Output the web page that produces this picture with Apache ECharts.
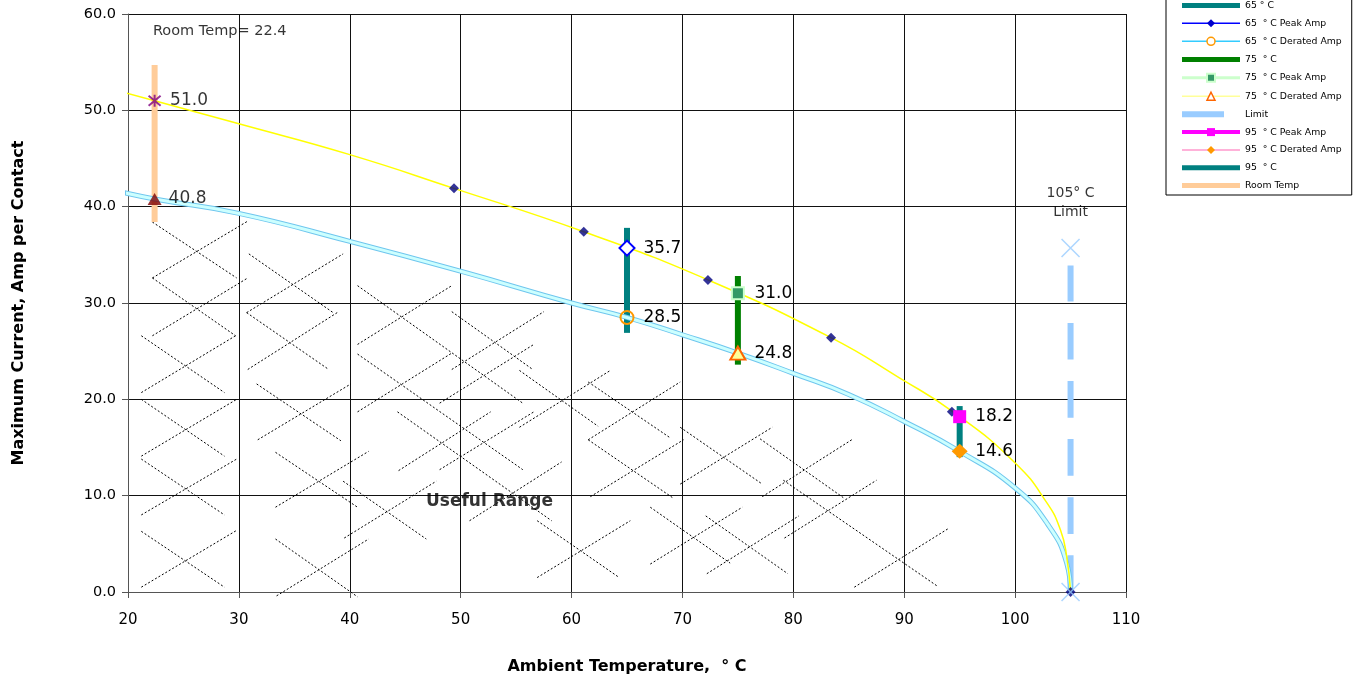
<!DOCTYPE html>
<html><head><meta charset="utf-8">
<script src="https://cdn.jsdelivr.net/npm/echarts@6/dist/echarts.min.js"></script>
<style>html,body{margin:0;padding:0;background:#fff}#c{width:1355px;height:679px}</style>
</head><body><div id="c"></div>
<script>
// ---------- data ----------
const roomTemp = 22.4;
const xTickValues = [20, 30, 40, 50, 60, 70, 80, 90, 100, 110];
const yTickValues = [0, 10, 20, 30, 40, 50, 60];

// peak-amp curve (yellow) and derated curve (light blue)
const peakCurve = [[19.2,52.0],[22.4,51.0],[30,48.6],[40,45.4],[49.4,41.9],[61.1,37.4],[72.3,32.4],[83.4,26.4],[89.6,22.2],[94.4,18.7],[100,13.4],[102.9,9.2],[104.1,6.4],[104.65,3.7],[105,0]];
const deratedCurve = [[19.1,41.6],[22.4,40.8],[30,39.3],[40,36.4],[50,33.3],[60,30.0],[65,28.5],[70,26.7],[75,24.8],[80,22.7],[85,20.5],[90,17.7],[95,14.6],[100,10.8],[102.9,7.1],[104.65,3.0],[105,0]];
const peakDiamonds = [[49.4,41.9],[61.1,37.4],[72.3,32.4],[83.4,26.4],[94.3,18.7],[105,0]];

// vertical range bars
const roomTempBar = [[22.4,38.4],[22.4,54.7]];
const bar65 = [[65,26.9],[65,37.8]];
const bar75 = [[75,23.6],[75,32.8]];
const bar95 = [[95,14.0],[95,19.3]];
const limitLine = [[105,0],[105,33.9]];

// labelled points
const peakRoom = [22.4, 51.0];
const deratedRoom = [22.4, 40.8];
const peak65 = [65, 35.7];
const derated65 = [65, 28.5];
const peak75 = [75, 31.0];
const derated75 = [75, 24.8];
const peak95 = [95, 18.2];
const derated95 = [95, 14.6];
const limitMarks = [[105, 35.7], [105, 0]];

// annotation anchors
const roomTempTextPos = [22.25, 58.2];
const usefulRangePos = [52.6, 9.35];
const limitTextPos = [105, 40.4];

// "Useful Range" hatch segments [x1, y1, x2, y2]
const hatchSegments = [
 [22.2,38.4,29.8,32.6],[22.2,32.6,30.8,38.5],[22.2,32.6,29.7,26.6],[22.2,26.6,30.8,32.6],
 [21.2,26.6,28.7,20.7],[21.2,20.7,29.7,26.6],[21.2,20.0,28.7,14.1],[21.2,14.1,29.8,20.0],
 [21.2,13.8,28.7,8.0],[21.2,8.0,29.8,13.8],[21.2,6.3,28.7,0.5],[21.2,0.5,29.8,6.4],
 [30.9,35.1,38.5,29.0],[30.7,29.0,39.4,35.1],[30.7,29.0,38.1,23.1],[30.8,23.1,39.0,29.1],
 [31.6,21.6,39.2,15.7],[31.7,15.8,40.1,21.6],[33.3,14.5,40.7,8.8],[33.3,8.8,41.7,14.6],
 [33.3,5.5,40.7,-0.5],[33.4,-0.4,41.7,5.5],[39.4,11.5,46.9,5.5],[39.5,5.6,47.8,11.5],
 [40.7,31.8,55.6,19.6],[40.7,25.7,49.2,31.8],[40.7,24.7,55.6,12.7],[40.7,18.7,49.2,24.8],
 [44.3,18.7,58.2,7.4],[49.2,29.1,56.5,23.1],[49.2,23.1,57.5,29.1],[48.1,19.6,56.6,25.7],
 [44.4,12.6,52.7,18.7],[48.1,12.7,56.6,18.7],[50.8,7.4,59.1,13.5],[55.3,23.0,62.4,17.2],
 [55.3,17.1,63.5,23.0],[61.5,21.8,68.9,16.0],[61.5,15.8,69.1,9.8],[61.7,9.9,70.1,15.8],
 [61.5,15.8,69.8,21.8],[56.9,7.4,64.3,1.5],[56.9,1.5,65.3,7.4],[69.8,17.1,77.2,11.2],
 [69.8,11.2,78.1,17.1],[77.0,15.9,84.5,9.8],[77.2,9.9,85.4,15.9],[79.1,11.6,93.0,0.6],
 [79.2,5.6,87.5,11.6],[67.1,8.8,74.3,3.0],[67.1,2.9,75.4,8.8],[72.1,7.9,79.5,1.9],
 [72.2,1.9,80.5,7.9],[85.5,0.5,94.0,6.6]
];

// ---------- chart ----------
const FONT = 'DejaVu Sans';
const chart = echarts.init(document.getElementById('c'), null, {renderer:'canvas'});

function valLabel(size, extra) {
  return {show:true, position:'right', distance:15.5 - size/2 + (extra || 0), color:'#000',
    fontFamily:FONT, fontSize:17, formatter: p => p.value[1].toFixed(1)};
}
function bar(name, data, color, width, dash) {
  return {type:'line', name, data, symbol:'none', clip:false, z:2, silent:true,
    lineStyle:{color, width, type: dash || 'solid', cap:'butt'}, itemStyle:{color}};
}
function marker(name, pt, symbol, size, itemStyle, lineStyle) {
  return {type:'line', name, data:[pt], symbol, symbolSize:size, showSymbol:true, clip:false, z:6,
    itemStyle, lineStyle, label: valLabel(Array.isArray(size) ? size[0] : size)};
}
function curve(data, color, width) {
  return {type:'line', data, symbol:'none', smooth:0.5, clip:false, z:3, silent:true,
    lineStyle:{color, width}};
}
const XPATH = 'path://M0,0L10,10M10,0L0,10';
const ASTER = 'path://M0,0L10,10M10,0L0,10M5,-1L5,11';
const hidden = {color:'rgba(0,0,0,0)', borderColor:'rgba(0,0,0,0)', borderWidth:0};

const series = [
  {type:'lines', coordinateSystem:'cartesian2d', clip:false, silent:true, z:1,
   lineStyle:{color:'#000', width:1, type:[2,2], opacity:1},
   data: hatchSegments.map(s => ({coords:[[s[0],s[1]],[s[2],s[3]]]}))},
  bar('Room Temp', roomTempBar, '#ffcc99', 6),
  bar('65 ° C', bar65, '#008080', 6),
  bar('75  ° C', bar75, '#008000', 6),
  bar('95  ° C', bar95, '#008080', 6),
  bar('Limit', limitLine, '#99ccff', 6, [36.7, 21.4]),
  curve(deratedCurve, '#6fc6ee', 5),
  curve(deratedCurve, '#ccffff', 3),
  curve(peakCurve, '#ffff00', 1.5),
  {type:'scatter', data:peakDiamonds, symbol:'diamond', symbolSize:10, z:4, itemStyle:{color:'#000080'}},
  {type:'scatter', data:[peakRoom], symbol:ASTER, symbolSize:12, z:6,
   itemStyle:{color:'none', borderColor:'#800080', borderWidth:2}, label:valLabel(12, -2.5)},
  {type:'scatter', data:[deratedRoom], symbol:'triangle', symbolSize:[14,12], z:6,
   itemStyle:{color:'#800000'}, label:valLabel(14, -1.5)},
  marker('65  ° C Peak Amp', peak65, 'diamond', 15, {color:'#fff', borderColor:'#0000ff', borderWidth:2}, {color:'#0000ff', width:1.5}),
  marker('65  ° C Derated Amp', derated65, 'circle', 13, {color:'rgba(0,0,0,0)', borderColor:'#ff9900', borderWidth:2}, {color:'#33ccff', width:1.5}),
  marker('75  ° C Peak Amp', peak75, 'rect', 12, {color:'#339966', borderColor:'#ccffcc', borderWidth:2}, {color:'#ccffcc', width:3}),
  marker('75  ° C Derated Amp', derated75, 'triangle', [15,13], {color:'#ffff99', borderColor:'#ff6600', borderWidth:2}, {color:'#ffff99', width:1.5}),
  marker('95  ° C Peak Amp', peak95, 'rect', 13, {color:'#ff00ff'}, {color:'#ff00ff', width:4}),
  marker('95  ° C Derated Amp', derated95, 'diamond', [16,15], {color:'#ff9900'}, {color:'#ff99cc', width:1.5}),
  {type:'scatter', data:limitMarks, symbol:XPATH, symbolSize:18, z:7,
   itemStyle:{color:'none', borderColor:'#99ccff', borderWidth:1.5}},
  {type:'scatter', data:[roomTempTextPos], symbolSize:0, z:8, silent:true, itemStyle:{color:'rgba(0,0,0,0)'},
   label:{show:true, position:'right', distance:0, formatter:'Room Temp= ' + roomTemp, color:'#000', fontFamily:FONT, fontSize:14.5}},
  {type:'scatter', data:[usefulRangePos], symbolSize:0, z:8, silent:true, itemStyle:{color:'rgba(0,0,0,0)'},
   label:{show:true, position:'inside', formatter:'Useful Range', color:'#000', fontFamily:FONT, fontSize:17, fontWeight:'bold'}},
  {type:'scatter', data:[limitTextPos], symbolSize:0, z:8, silent:true, itemStyle:{color:'rgba(0,0,0,0)'},
   label:{show:true, position:'inside', formatter:'105° C\nLimit', color:'#000', fontFamily:FONT, fontSize:14, lineHeight:19, align:'center'}}
];

const legendItems = [
  {name:'65 ° C', itemStyle:hidden, lineStyle:{color:'#008080', width:5}},
  {name:'65  ° C Peak Amp', itemStyle:{color:'#0000cc', borderWidth:0}, lineStyle:{color:'#0000ff', width:1.5}},
  {name:'65  ° C Derated Amp', itemStyle:{color:'#fff', borderColor:'#ff9900', borderWidth:1.5}, lineStyle:{color:'#33ccff', width:1.5}},
  {name:'75  ° C', itemStyle:hidden, lineStyle:{color:'#008000', width:5}},
  {name:'75  ° C Peak Amp', itemStyle:{color:'#339966', borderColor:'#ccffcc', borderWidth:2}, lineStyle:{color:'#ccffcc', width:3}},
  {name:'75  ° C Derated Amp', itemStyle:{color:'#fff', borderColor:'#ff6600', borderWidth:1.5}, lineStyle:{color:'#ffff99', width:1.5}},
  {name:'Limit', itemStyle:hidden, lineStyle:{color:'#99ccff', width:6, type:[42,30]}},
  {name:'95  ° C Peak Amp', itemStyle:{color:'#ff00ff', borderWidth:0}, lineStyle:{color:'#ff00ff', width:4}},
  {name:'95  ° C Derated Amp', itemStyle:{color:'#ff9900', borderWidth:0}, lineStyle:{color:'#ff99cc', width:1.5}},
  {name:'95  ° C', itemStyle:hidden, lineStyle:{color:'#008080', width:5}},
  {name:'Room Temp', itemStyle:hidden, lineStyle:{color:'#ffcc99', width:5}}
];

chart.setOption({
  animation:false,
  backgroundColor:'#fff',
  grid:{left:128, right:229, top:14, bottom:87, containLabel:false, outerBoundsMode:'none'},
  legend:{orient:'vertical', left:1166, top:-4, padding:[5,10,5,13], itemWidth:58, itemHeight:10, itemGap:8.8,
    borderColor:'#000', borderWidth:1, backgroundColor:'#fff', selectedMode:false,
    textStyle:{fontFamily:FONT, fontSize:9.3, color:'#000'}, data:legendItems},
  xAxis:{type:'value', min:xTickValues[0], max:xTickValues[xTickValues.length-1], interval:10,
    axisLine:{show:true, onZero:false, lineStyle:{color:'#555', width:1}},
    axisTick:{show:true, length:6, lineStyle:{color:'#555'}},
    axisLabel:{color:'#000', fontFamily:FONT, fontSize:15, margin:21, showMinLabel:true, showMaxLabel:true},
    splitLine:{show:true, lineStyle:{color:'#111', width:1}},
    name:'Ambient Temperature,  ° C', nameLocation:'middle', nameGap:67,
    nameTextStyle:{fontFamily:FONT, fontWeight:'bold', fontSize:16, color:'#000'}},
  yAxis:{type:'value', min:yTickValues[0], max:yTickValues[yTickValues.length-1], interval:10,
    axisLine:{show:true, onZero:false, lineStyle:{color:'#555', width:1}},
    axisTick:{show:true, length:6, lineStyle:{color:'#555'}},
    axisLabel:{color:'#000', fontFamily:FONT, fontSize:14.5, margin:12, formatter:v => v.toFixed(1), showMinLabel:true, showMaxLabel:true},
    splitLine:{show:true, lineStyle:{color:'#111', width:1}},
    name:'Maximum Current, Amp per Contact', nameLocation:'middle', nameGap:101, nameRotate:90,
    nameTextStyle:{fontFamily:FONT, fontWeight:'bold', fontSize:16, color:'#000'}},
  series
});
</script></body></html>
